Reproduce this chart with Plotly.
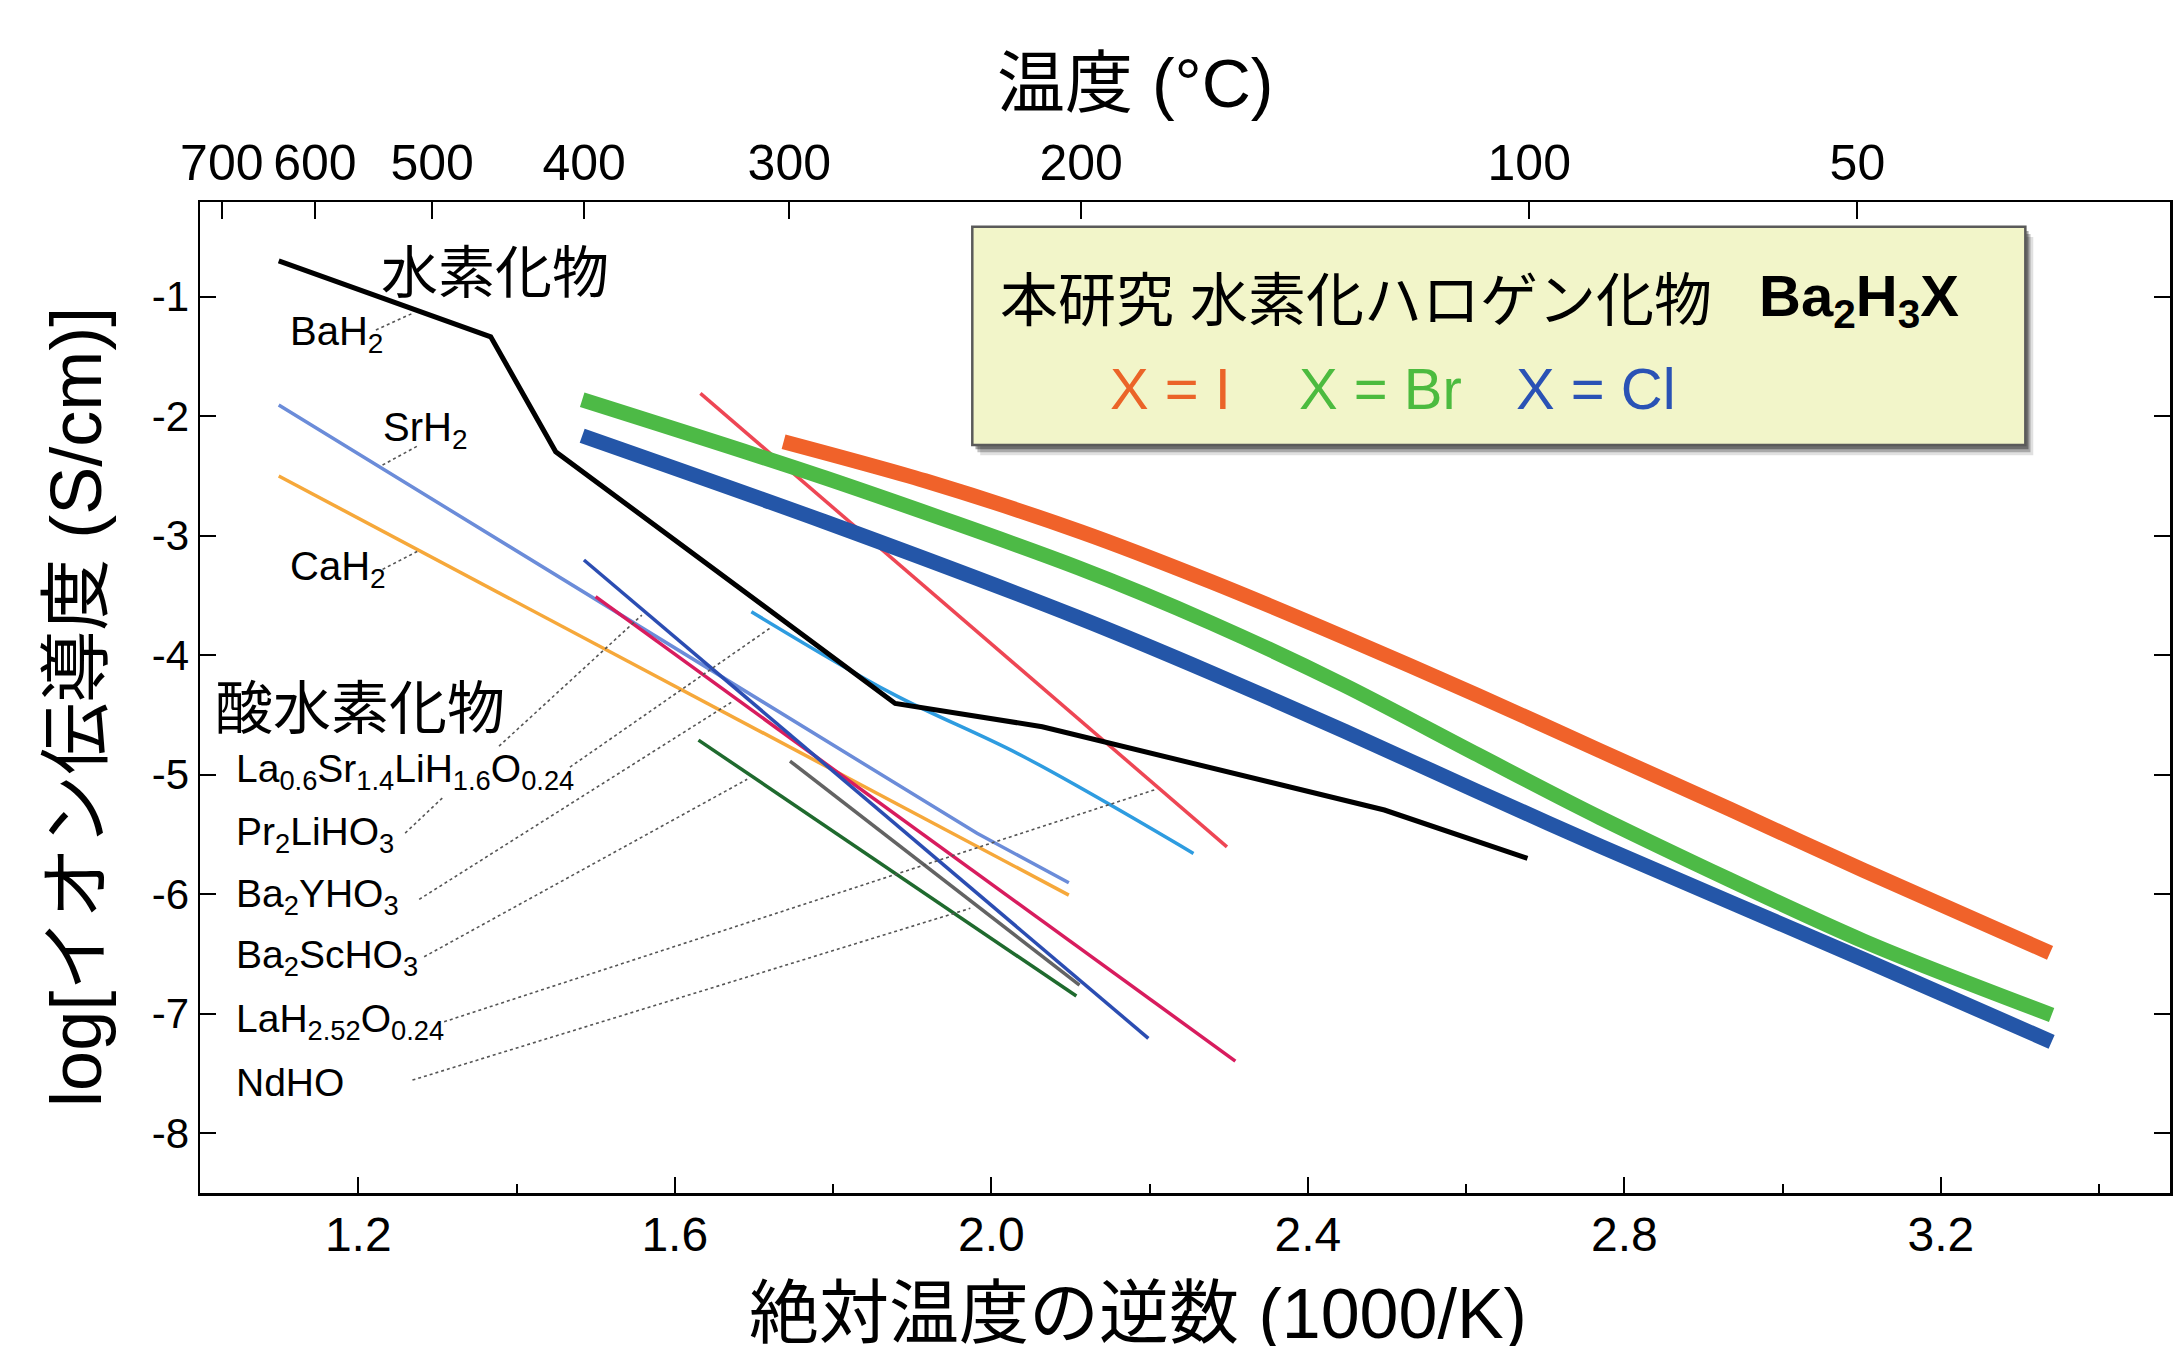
import plotly.graph_objects as go

# ---------------- data (x = 1000/T [1/K], y = log sigma [S/cm]) ----------------
# hydrides
BAH2_X = [1.0995, 1.3674, 1.4495, 1.8785, 2.0644, 2.4968, 2.6776]
BAH2_Y = [-0.70, -1.335, -2.297, -4.403, -4.598, -5.295, -5.700]
SRH2_X = [1.0995, 1.542, 1.706, 1.982, 2.098]
SRH2_Y = [-1.906, -3.705, -4.375, -5.490, -5.904]
CAH2_X = [1.0995, 1.630, 2.098]
CAH2_Y = [-2.500, -4.362, -6.007]

# oxyhydrides
PR2LIHO3_X = [1.4852, 2.1985]
PR2LIHO3_Y = [-3.203, -7.206]
BA2YHO3_X = [1.4999, 2.3084]
BA2YHO3_Y = [-3.510, -7.396]
LAH252_X = [1.6324, 2.2978]
LAH252_Y = [-1.808, -5.603]
LASR_X = [1.6968, 1.8742, 2.0411, 2.2555]
LASR_Y = [-3.636, -4.319, -4.849, -5.658]
BA2SCHO3_X = [1.630, 2.1075]
BA2SCHO3_Y = [-4.710, -6.852]
NDHO_X = [1.7456, 2.1115]
NDHO_Y = [-4.885, -6.760]

# this work: Ba2H3X
BA2H3I_X = [1.7375, 1.9163, 2.1132, 2.278, 2.4463, 2.6145, 2.7694, 2.934, 3.1025, 3.338]
BA2H3I_Y = [-2.213, -2.540, -2.967, -3.385, -3.850, -4.335, -4.799, -5.290, -5.800, -6.490]
BA2H3BR_X = [1.483, 1.790, 2.1098, 2.278, 2.4463, 2.6145, 2.7694, 3.1025, 3.340]
BA2H3BR_Y = [-1.862, -2.516, -3.268, -3.730, -4.252, -4.832, -5.359, -6.392, -7.010]
BA2H3CL_X = [1.483, 1.790, 2.1098, 2.278, 2.4463, 2.6145, 2.7694, 3.1025, 3.340]
BA2H3CL_Y = [-2.163, -2.884, -3.684, -4.147, -4.635, -5.140, -5.597, -6.546, -7.235]

# axes
X_TICKS = [1.2, 1.6, 2.0, 2.4, 2.8, 3.2]
X_TICK_TEXT = ["1.2", "1.6", "2.0", "2.4", "2.8", "3.2"]
X_MINOR = [1.4, 1.8, 2.2, 2.6, 3.0, 3.4]
Y_TICKS = [-1, -2, -3, -4, -5, -6, -7, -8]
Y_TICK_TEXT = ["-1", "-2", "-3", "-4", "-5", "-6", "-7", "-8"]
TOP_TEMPS_C = [700, 600, 500, 400, 300, 200, 100, 50]

HYDRIDE_LABELS = ["BaH<sub>2</sub>", "SrH<sub>2</sub>", "CaH<sub>2</sub>"]
OXY_LABELS = [
    "La<sub>0.6</sub>Sr<sub>1.4</sub>LiH<sub>1.6</sub>O<sub>0.24</sub>",
    "Pr<sub>2</sub>LiHO<sub>3</sub>",
    "Ba<sub>2</sub>YHO<sub>3</sub>",
    "Ba<sub>2</sub>ScHO<sub>3</sub>",
    "LaH<sub>2.52</sub>O<sub>0.24</sub>",
    "NdHO",
]

FONT = "Liberation Sans, Arial, Helvetica, Noto Sans CJK JP, sans-serif"
XR = [1.0, 3.4896]
YR = [-8.5, -0.207]

fig = go.Figure()

thin_series = [
    (SRH2_X, SRH2_Y, "#6B8CD9", 3.5, "linear"),
    (CAH2_X, CAH2_Y, "#F6A83A", 3.5, "linear"),
    (LASR_X, LASR_Y, "#2E9CE0", 3.5, "spline"),
    (LAH252_X, LAH252_Y, "#EE4654", 3.5, "linear"),
    (BA2SCHO3_X, BA2SCHO3_Y, "#1F6A2E", 3.5, "linear"),
    (NDHO_X, NDHO_Y, "#636363", 3.5, "linear"),
    (BA2YHO3_X, BA2YHO3_Y, "#D81C5E", 3.5, "linear"),
    (PR2LIHO3_X, PR2LIHO3_Y, "#2B4DB2", 3.5, "linear"),
    (BAH2_X, BAH2_Y, "#000000", 5, "linear"),
]
for xs, ys, col, w, shp in thin_series:
    fig.add_trace(go.Scatter(x=xs, y=ys, mode="lines",
                             line=dict(color=col, width=w, shape=shp),
                             showlegend=False, hoverinfo="skip"))

thick_series = [
    (BA2H3I_X, BA2H3I_Y, "#F0622A"),
    (BA2H3BR_X, BA2H3BR_Y, "#4DBA46"),
    (BA2H3CL_X, BA2H3CL_Y, "#2456A8"),
]
for xs, ys, col in thick_series:
    fig.add_trace(go.Scatter(x=xs, y=ys, mode="lines",
                             line=dict(color=col, width=15, shape="spline", smoothing=0.8),
                             showlegend=False, hoverinfo="skip"))

# dummy trace so the top temperature axis is drawn
fig.add_trace(go.Scatter(x=XR, y=[-5, -5], xaxis="x2", mode="markers",
                         marker=dict(opacity=0), showlegend=False, hoverinfo="skip"))

top_vals = [1000.0 / (t + 273.15) for t in TOP_TEMPS_C]

# ---------------- shapes ----------------
shapes = []
box = dict(x0=1.976, x1=3.3068, y0=-2.241, y1=-0.414)
for dx, dy, a in [(0.010, 0.085, 0.12), (0.0065, 0.060, 0.25), (0.004, 0.035, 0.35)]:
    shapes.append(dict(type="rect", xref="x", yref="y",
                       x0=box["x0"] + dx, x1=box["x1"] + dx,
                       y0=box["y0"] - dy, y1=box["y1"] - dy,
                       fillcolor=f"rgba(0,0,0,{a})", line=dict(width=0), layer="above"))
shapes.append(dict(type="rect", xref="x", yref="y", **box,
                   fillcolor="#F2F5C9", line=dict(color="#5A5A5A", width=2.5), layer="above"))

leaders = [
    ((1.2223, -1.2787), (1.2685, -1.1389)),
    ((1.2307, -2.4084), (1.2748, -2.2494)),
    ((1.2307, -3.2812), (1.2779, -3.1197)),
    ((1.2593, -5.488), (1.3073, -5.188)),
    ((1.3779, -4.761), (1.5584, -3.664)),
    ((1.4675, -4.936), (1.7228, -3.762)),
    ((1.277, -6.043), (1.6719, -4.392)),
    ((1.2833, -6.523), (1.6915, -5.038)),
    ((1.3085, -7.067), (2.2082, -5.122)),
    ((1.2685, -7.555), (1.9735, -6.118)),
]
for (x0, y0), (x1, y1) in leaders:
    shapes.append(dict(type="line", xref="x", yref="y", x0=x0, y0=y0, x1=x1, y1=y1,
                       line=dict(color="#555555", width=1.6, dash="dot"), layer="above"))

# ---------------- annotations ----------------
ann = []

def txt(text, x, y, size, color="black", xanchor="left", xref="x", yref="y", angle=0):
    ann.append(dict(text=text, x=x, y=y, xref=xref, yref=yref, xanchor=xanchor,
                    yanchor="middle", showarrow=False, textangle=angle,
                    font=dict(family=FONT, size=size, color=color)))

# axis titles
txt("温度 (°C)", 0.4744, 1.120, 68, xanchor="center", xref="paper", yref="paper")
txt("絶対温度の逆数 (1000/K)", 0.4762, -0.122, 70, xanchor="center", xref="paper", yref="paper")
txt("log[イオン伝導度 (S/cm)]", -0.063, 0.4904, 72, xanchor="center", xref="paper", yref="paper", angle=-90)

# group labels
txt("水素化物", 1.2265, -0.797, 57)
txt("酸水素化物", 1.017, -4.442, 58)

hyd_pos = [(1.1108, -1.312), (1.2286, -2.115), (1.1108, -3.279)]
for lab, (x, y) in zip(HYDRIDE_LABELS, hyd_pos):
    txt(lab, x, y, 40)

oxy_y = [-4.969, -5.497, -6.021, -6.530, -7.061, -7.577]
for lab, y in zip(OXY_LABELS, oxy_y):
    txt(lab, 1.0435, y, 39)

# legend box texts
txt("本研究 水素化ハロゲン化物", 2.0088, -1.028, 58)
txt("<b>Ba<sub>2</sub>H<sub>3</sub>X</b>", 2.968, -1.028, 58)
txt("X = I", 2.226, -1.764, 58, color="#EB6428", xanchor="center")
txt("X = Br", 2.492, -1.764, 58, color="#4CBB3F", xanchor="center")
txt("X = Cl", 2.764, -1.764, 58, color="#2A52B5", xanchor="center")

fig.update_layout(
    width=2173, height=1346,
    margin=dict(l=200, r=0, t=202, b=153),
    paper_bgcolor="white", plot_bgcolor="white",
    font=dict(family=FONT, color="black"),
    shapes=shapes, annotations=ann,
    xaxis=dict(range=XR, tickmode="array", tickvals=X_TICKS, ticktext=X_TICK_TEXT,
               ticks="inside", ticklen=16, tickwidth=2, tickcolor="black",
               showline=True, linewidth=3, linecolor="black", mirror=False,
               showgrid=False, zeroline=False,
               tickfont=dict(family=FONT, size=48), ticklabelstandoff=-3,
               minor=dict(tickmode="array", tickvals=X_MINOR, ticks="inside",
                          ticklen=9, tickwidth=2, tickcolor="black", showgrid=False)),
    xaxis2=dict(range=XR, overlaying="x", side="top", anchor="y",
                tickmode="array", tickvals=top_vals, ticktext=[str(t) for t in TOP_TEMPS_C],
                ticks="inside", ticklen=17, tickwidth=2, tickcolor="black",
                showline=True, linewidth=2.5, linecolor="black",
                showgrid=False, zeroline=False,
                tickfont=dict(family=FONT, size=50), ticklabelstandoff=0),
    yaxis=dict(range=YR, tickmode="array", tickvals=Y_TICKS, ticktext=Y_TICK_TEXT,
               ticks="inside", ticklen=16, tickwidth=2, tickcolor="black",
               showline=True, linewidth=2.5, linecolor="black", mirror="ticks",
               showgrid=False, zeroline=False,
               tickfont=dict(family=FONT, size=42), ticklabelstandoff=0),
)

fig.write_html("out.html", config={"displayModeBar": False, "staticPlot": True},
               post_script="document.body.style.margin='0px';document.body.style.overflow='hidden';")
